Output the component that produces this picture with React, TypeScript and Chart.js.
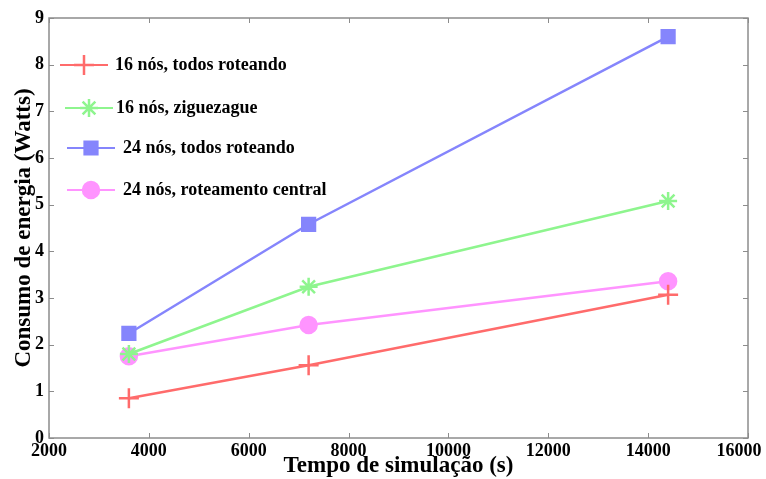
import React, { useEffect, useRef } from "react";
import { Chart, registerables } from "chart.js";
import { drawPoint } from "chart.js/helpers";

Chart.register(...registerables);

const timeValues = [3600, 7200, 14400];
const seriesLabels = [
  "16 nós, todos roteando",
  "16 nós, ziguezague",
  "24 nós, todos roteando",
  "24 nós, roteamento central",
];
const red16All = [0.85, 1.56, 3.07];
const green16Zig = [1.8, 3.24, 5.08];
const blue24All = [2.24, 4.58, 8.6];
const pink24Central = [1.75, 2.42, 3.36];
const xTicks = [2000, 4000, 6000, 8000, 10000, 12000, 14000, 16000];
const yTicks = [0, 1, 2, 3, 4, 5, 6, 7, 8, 9];

const FONT = "'Liberation Serif', 'Times New Roman', serif";

const styles = [
  { color: "#ff6b6b", point: "cross", radius: 10 },
  { color: "#8ef58e", point: "star", radius: 9 },
  { color: "#8585fc", point: "rect", radius: 9 },
  { color: "#ff94ff", point: "circle", radius: 8 },
];

// legend layout: [row y, line start, line end, text start]
const legendLayout = [
  [65, 60, 108, 115],
  [108, 65, 113, 116],
  [148, 67, 115, 123],
  [190, 67, 115, 123],
];

const boxPlugin = {
  id: "boxTicks",
  afterDraw(chart: any) {
    const { ctx, chartArea: a, scales } = chart;
    ctx.save();
    ctx.strokeStyle = "#8c8c8c";
    ctx.lineWidth = 1.5;
    ctx.strokeRect(a.left, a.top, a.right - a.left, a.bottom - a.top);
    ctx.lineWidth = 1;
    const t = 5;
    ctx.beginPath();
    for (const v of xTicks) {
      const x = Math.round(scales.x.getPixelForValue(v)) + 0.5;
      ctx.moveTo(x, a.bottom);
      ctx.lineTo(x, a.bottom - t);
      ctx.moveTo(x, a.top);
      ctx.lineTo(x, a.top + t);
    }
    for (const v of yTicks) {
      const y = Math.round(scales.y.getPixelForValue(v)) + 0.5;
      ctx.moveTo(a.left, y);
      ctx.lineTo(a.left + t, y);
      ctx.moveTo(a.right, y);
      ctx.lineTo(a.right - t, y);
    }
    ctx.stroke();

    // legend
    ctx.font = `bold 18px ${FONT}`;
    ctx.textBaseline = "middle";
    ctx.textAlign = "left";
    chart.data.datasets.forEach((ds: any, i: number) => {
      const [y, x0, x1, tx] = legendLayout[i];
      ctx.strokeStyle = ds.borderColor;
      ctx.fillStyle = ds.borderColor;
      ctx.lineWidth = 2;
      ctx.beginPath();
      ctx.moveTo(x0, y);
      ctx.lineTo(x1, y);
      ctx.stroke();
      ctx.lineWidth = 2.5;
      drawPoint(
        ctx,
        {
          pointStyle: ds.pointStyle,
          radius: ds.pointRadius,
          borderWidth: 2.5,
          rotation: 0,
        },
        (x0 + x1) / 2,
        y
      );
      ctx.fillStyle = "#000";
      ctx.fillText(ds.label, tx, y);
    });
    ctx.restore();
  },
};

export default function App() {
  const ref = useRef<HTMLCanvasElement>(null);
  useEffect(() => {
    document.body.style.margin = "0";
    const seriesData = [red16All, green16Zig, blue24All, pink24Central];
    const chart = new Chart(ref.current!, {
      type: "line",
      data: {
        datasets: seriesData.map((vals, i) => ({
          label: seriesLabels[i],
          data: vals.map((v, j) => ({ x: timeValues[j], y: v })),
          borderColor: styles[i].color,
          backgroundColor: styles[i].color,
          pointBackgroundColor: styles[i].color,
          pointBorderColor: styles[i].color,
          pointStyle: styles[i].point,
          pointRadius: styles[i].radius,
          pointBorderWidth: 2.5,
          borderWidth: 2.5,
          fill: false,
          tension: 0,
        })),
      },
      options: {
        animation: false,
        responsive: false,
        devicePixelRatio: 1,
        layout: { padding: { top: 18, right: 18, left: 0, bottom: 0 } },
        plugins: { legend: { display: false }, tooltip: { enabled: false } },
        scales: {
          x: {
            type: "linear",
            min: 2000,
            max: 16000,
            afterFit: (s: any) => {
              s.height = 41;
              s.paddingLeft = 0;
              s.paddingRight = 0;
            },
            afterBuildTicks: (s: any) => {
              s.ticks = xTicks.map((v) => ({ value: v }));
            },
            grid: { display: false, drawTicks: false },
            border: { display: false },
            ticks: {
              padding: 3,
              maxRotation: 0,
              autoSkip: false,
              color: "#000",
              font: { family: FONT, size: 18, weight: "bold" },
              callback: (v: any, i: number, all: any[]) =>
                i === all.length - 1 ? String(v) + "\u2002\u2002" : String(v),
            },
            title: {
              display: true,
              text: "Tempo de simulação (s)",
              color: "#000",
              padding: { top: 0, bottom: -1 },
              font: { family: FONT, size: 23, weight: "bold" },
            },
          },
          y: {
            type: "linear",
            min: 0,
            max: 9,
            afterFit: (s: any) => {
              s.width = 49;
              s.paddingTop = 0;
              s.paddingBottom = 0;
            },
            afterBuildTicks: (s: any) => {
              s.ticks = yTicks.map((v) => ({ value: v }));
            },
            grid: { display: false, drawTicks: false },
            border: { display: false },
            ticks: {
              padding: 5,
              autoSkip: false,
              color: "#000",
              font: { family: FONT, size: 18, weight: "bold" },
              callback: (v: any) => String(v),
            },
            title: {
              display: true,
              text: "Consumo de energia (Watts)",
              color: "#000",
              padding: { top: 10, bottom: 0 },
              font: { family: FONT, size: 23, weight: "bold" },
            },
          },
        },
      },
      plugins: [boxPlugin],
    } as any);
    return () => chart.destroy();
  }, []);
  return (
    <div style={{ width: 766, height: 479, background: "#fff" }}>
      <canvas ref={ref} width={766} height={479} />
    </div>
  );
}
